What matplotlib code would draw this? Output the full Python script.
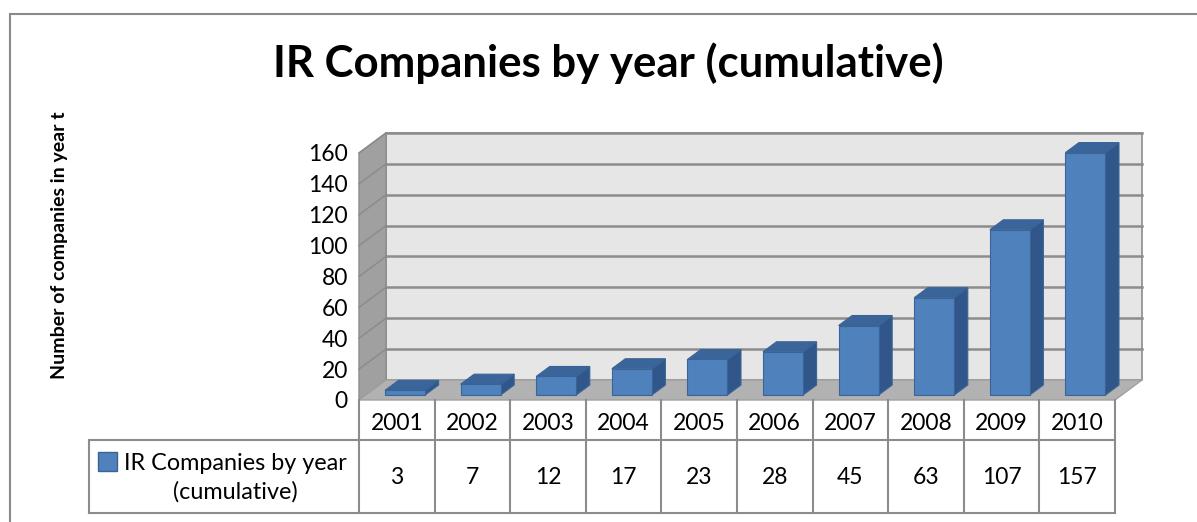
import numpy as np
import matplotlib
matplotlib.use("Agg")
import matplotlib.pyplot as plt
from matplotlib.patches import Polygon, Rectangle

plt.rcParams['font.family'] = ['Lato', 'DejaVu Sans']

# data
years = ['2001', '2002', '2003', '2004', '2005', '2006', '2007', '2008', '2009', '2010']
companies = [3, 7, 12, 17, 23, 28, 45, 63, 107, 157]
yticks = [0, 20, 40, 60, 80, 100, 120, 140, 160]
series_name = 'IR Companies by year\n(cumulative)'

W, H = 1197, 522
fig = plt.figure(figsize=(W / 100, H / 100), dpi=100)

def box(x0, y0, x1, y1):
    # pixel box (top-left origin) -> figure fraction rect
    return [x0 / W, 1 - y1 / H, (x1 - x0) / W, (y1 - y0) / H]

# outer chart frame
fig.patches.append(Rectangle((10 / W, -0.1), 1.2, 1 - 14 / H + 0.1, transform=fig.transFigure,
                             fill=False, ec='#8a8a8a', lw=1.5))

# plot area: x in category units, y in company counts
px_per_val = 1.544
ax = fig.add_axes(box(359, 100, 1115, 400))
ax.set_xlim(0, 10)
ax.set_ylim(0, 300 / px_per_val)
for s in ax.spines.values():
    s.set_visible(False)
ax.set_xticks([])
ax.set_yticks(yticks)
ax.set_yticklabels([str(t) for t in yticks], fontsize=16.5)
ax.tick_params(axis='y', length=0, pad=8)
ax.patch.set_visible(False)

ddx, ddy = 0.357, 12.95          # depth of the floor / walls
top = yticks[-1]
grid_c = '#8c8c8c'

back = Polygon([(ddx, ddy), (10 + ddx, ddy), (10 + ddx, top + ddy), (ddx, top + ddy)],
               closed=True, fc='#e6e6e6', ec=grid_c, lw=1.2, zorder=1, clip_on=False)
side = Polygon([(0, 0), (ddx, ddy), (ddx, top + ddy), (0, top)],
               closed=True, fc='#a0a0a0', ec=grid_c, lw=1.0, zorder=1, clip_on=False)
floor = Polygon([(0, 0), (10, 0), (10 + ddx, ddy), (ddx, ddy)],
                closed=True, fc='#b2b2b2', ec='#a0a0a0', lw=1.0, zorder=1.5, clip_on=False)
for p in (back, side, floor):
    ax.add_patch(p)

for t in yticks[1:]:
    ax.plot([ddx, 10 + ddx], [t + ddy, t + ddy], color=grid_c, lw=1.8, zorder=2, clip_on=False)
    ax.plot([0, ddx], [t, t + ddy], color='#8a8a8a', lw=1.0, zorder=2, clip_on=False)

# 3d columns
fb, fe = 0.25, 0.75
bar_left, bar_w = 0.255, 0.53
bdx, bdy = (fe - fb) * ddx, (fe - fb) * ddy
face_c, top_c, side_c, edge_c = '#4f81bd', '#3a659a', '#31578a', '#3b6496'
for i, v in enumerate(companies):
    xl = i + bar_left + fb * ddx
    yb = fb * ddy
    yt = yb + v
    xr = xl + bar_w
    ax.add_patch(Polygon([(xr, yb), (xr + bdx, yb + bdy), (xr + bdx, yt + bdy), (xr, yt)],
                         closed=True, fc=side_c, ec=edge_c, lw=0.8, zorder=3, clip_on=False))
    ax.add_patch(Polygon([(xl, yt), (xr, yt), (xr + bdx, yt + bdy), (xl + bdx, yt + bdy)],
                         closed=True, fc=top_c, ec=edge_c, lw=0.8, zorder=3, clip_on=False))
    ax.add_patch(Polygon([(xl, yb), (xr, yb), (xr, yt), (xl, yt)],
                         closed=True, fc=face_c, ec=edge_c, lw=0.8, zorder=3, clip_on=False))

# data table under the plot
head_h, row_h = 40, 73
tab = fig.add_axes(box(359, 400, 1115, 513))
tab.set_xlim(0, 10)
tab.set_ylim(0, head_h + row_h)
tab.axis('off')
line_c = '#8c8c8c'
leg_x = -270 / 75.6
for i in range(11):
    tab.plot([i, i], [0, head_h + row_h], color=line_c, lw=1.5, clip_on=False)
tab.plot([leg_x, 10], [row_h, row_h], color=line_c, lw=1.5, clip_on=False)
tab.plot([leg_x, 10], [0, 0], color=line_c, lw=1.5, clip_on=False)
tab.plot([leg_x, leg_x], [0, row_h], color=line_c, lw=1.5, clip_on=False)
for i, (yr, v) in enumerate(zip(years, companies)):
    tab.text(i + 0.5, row_h + head_h / 2 - 4, yr, ha='center', va='center', fontsize=16.5)
    tab.text(i + 0.5, row_h / 2 - 1, str(v), ha='center', va='center', fontsize=16.5)
tab.text(-124 / 75.6, row_h / 2 - 1, series_name, ha='center', va='center', fontsize=16.8,
         linespacing=1.4)
tab.add_patch(Rectangle((-261 / 75.6, row_h - 31), 19 / 75.6, 19, fc=face_c, ec=edge_c,
                        lw=1.0, clip_on=False))

fig.text(608 / W, 1 - 77 / H, 'IR Companies by year (cumulative)', ha='center',
         va='baseline', fontsize=31.5, fontweight='bold')
fig.text(60 / W, 1 - 245 / H, 'Number of companies in year t', ha='center', va='center',
         rotation=90, fontsize=14, fontweight='bold')

fig.savefig('out.png', dpi=100)
